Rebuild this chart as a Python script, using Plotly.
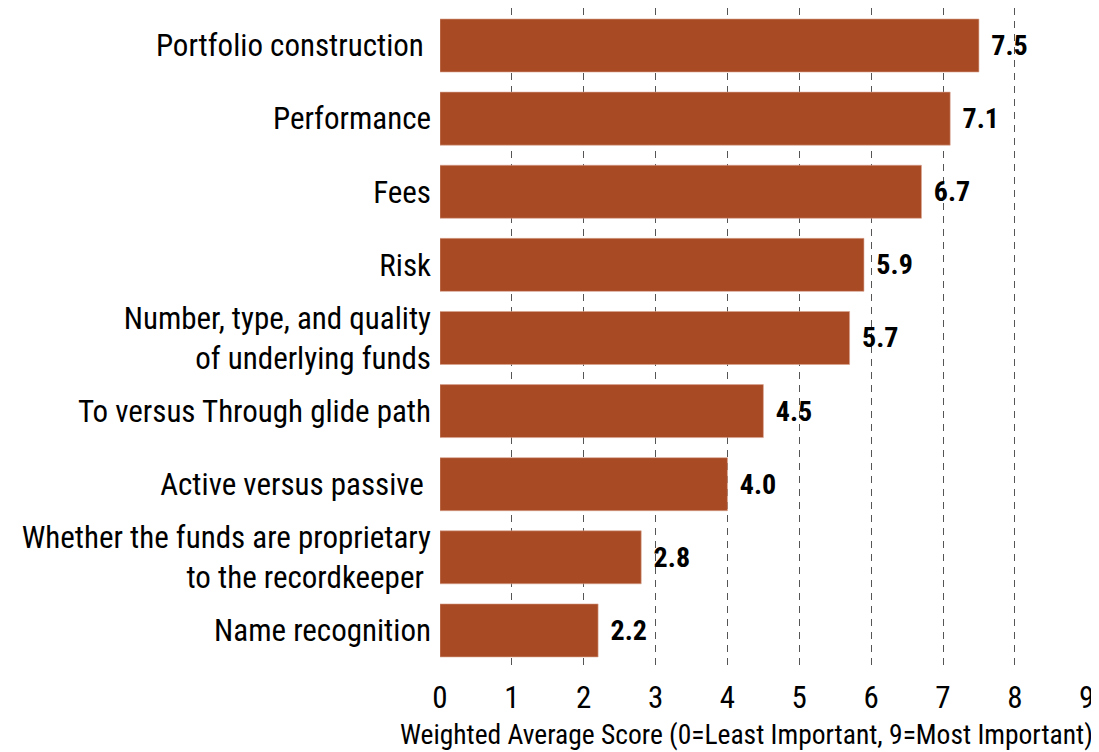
import plotly.graph_objects as go

categories = [
    "Portfolio construction\u00a0",
    "Performance",
    "Fees",
    "Risk",
    "Number, type, and quality<br>of underlying funds",
    "To versus Through glide path",
    "Active versus passive\u00a0",
    "Whether the funds are proprietary<br>to the recordkeeper\u00a0",
    "Name recognition",
]
scores = [7.5, 7.1, 6.7, 5.9, 5.7, 4.5, 4.0, 2.8, 2.2]
x_ticks = [0, 1, 2, 3, 4, 5, 6, 7, 8, 9]
x_title = "Weighted Average Score (0=Least Important, 9=Most Important)"

BAR_COLOR = "#A84A24"
FONT = "Roboto Condensed, Liberation Sans Narrow, sans-serif"

fig = go.Figure(
    go.Bar(
        y=categories,
        x=scores,
        orientation="h",
        marker=dict(color=BAR_COLOR, line=dict(color="#D9A38F", width=0.6)),
        texttemplate="\u00a0\u200a<b>%{x:.1f}</b>",
        textposition="outside",
        textfont=dict(family=FONT, size=28, color="#000000"),
        constraintext="none",
        cliponaxis=False,
        hoverinfo="skip",
    )
)

fig.update_layout(
    width=1091,
    height=744,
    margin=dict(l=432, r=12, t=0, b=85, autoexpand=False),
    paper_bgcolor="white",
    plot_bgcolor="white",
    bargap=0.275,
    showlegend=False,
    font=dict(family=FONT, color="#000000"),
)

fig.add_annotation(
    text=x_title,
    xref="paper",
    yref="paper",
    x=0.473,
    y=0,
    xanchor="center",
    yanchor="middle",
    yshift=-67,
    showarrow=False,
    borderpad=0,
    font=dict(family=FONT, size=27.5, color="#000000"),
)

fig.update_xaxes(
    range=[0, 9.004],
    tickvals=x_ticks,
    ticktext=[str(t) for t in x_ticks],
    tickfont=dict(family=FONT, size=31),
    showgrid=True,
    gridcolor="#555555",
    gridwidth=1,
    griddash="7px,6px",
    zeroline=False,
    showline=False,
    ticks="",
    automargin=False,
    ticklabelstandoff=9,
)

fig.update_yaxes(
    categoryorder="array",
    categoryarray=categories[::-1],
    range=[-0.5, 8.513],
    tickfont=dict(family=FONT, size=31),
    showgrid=False,
    zeroline=False,
    showline=False,
    ticks="",
    automargin=False,
    ticklabelstandoff=8,
)

fig.write_html("out.html")
